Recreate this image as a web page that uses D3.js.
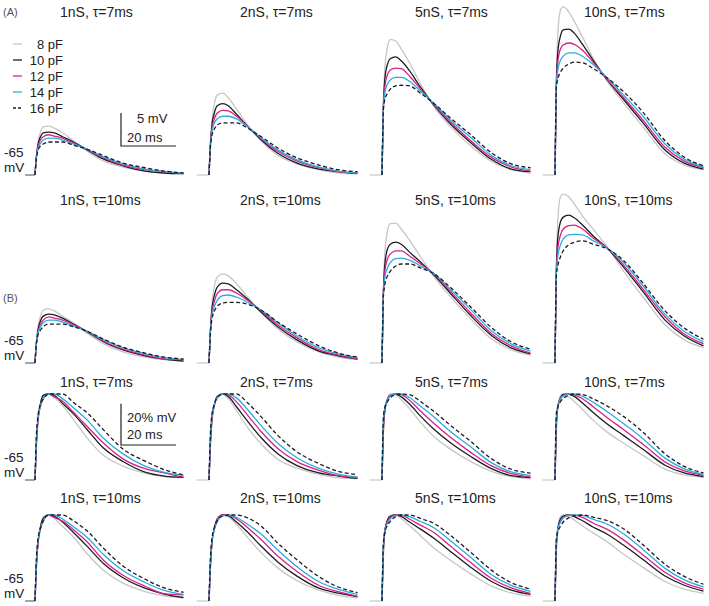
<!DOCTYPE html>
<html>
<head>
<meta charset="utf-8">
<script src="https://cdn.jsdelivr.net/npm/d3@7"></script>
<style>
  body { margin: 0; background: #fff; }
  text { font-family: "Liberation Sans", Arial, sans-serif; fill: #222; }
</style>
</head>
<body>
<svg id="fig" width="709" height="606"></svg>
<script>
// capacitance series (legend order)
const capacitances = ["8 pF", "10 pF", "12 pF", "14 pF", "16 pF"];
const conductances = ["1nS", "2nS", "5nS", "10nS"];
const taus = ["7ms", "10ms"];
// sample times after synaptic onset (ms)
const timesMs = [0, 0.5, 1, 2, 3, 5, 7, 10, 14, 19, 25, 32, 40, 47, 54];

// EPSP amplitude above -65 mV (mV), one row per capacitance, tau = 7 ms
const epsp1nS7 = [
  [0, 2.7, 4.7, 6.5, 7.3, 7.4, 7.1, 6.4, 5.2, 3.6, 2.1, 1.2, 0.6, 0.3, 0.2],
  [0, 2.7, 4.4, 5.8, 6.4, 6.5, 6.4, 5.8, 5.0, 3.8, 2.4, 1.4, 0.6, 0.3, 0.2],
  [0, 2.7, 4.1, 5.3, 5.8, 6.1, 5.9, 5.6, 4.8, 3.8, 2.6, 1.5, 0.8, 0.5, 0.2],
  [0, 2.6, 3.9, 4.8, 5.3, 5.6, 5.6, 5.3, 4.7, 3.9, 2.7, 1.7, 0.9, 0.5, 0.3],
  [0, 2.6, 3.6, 4.4, 4.7, 5.0, 5.0, 5.0, 4.5, 3.9, 2.9, 1.8, 1.1, 0.6, 0.3]
];
const epsp2nS7 = [
  [0, 4.5, 7.9, 10.9, 12.1, 12.4, 11.7, 10.0, 7.6, 5.2, 3.0, 1.7, 0.8, 0.3, 0.2],
  [0, 4.5, 7.3, 9.5, 10.5, 10.8, 10.5, 9.2, 7.4, 5.3, 3.3, 1.8, 0.9, 0.5, 0.2],
  [0, 4.4, 6.8, 8.6, 9.4, 9.8, 9.7, 8.9, 7.4, 5.5, 3.6, 2.1, 1.1, 0.5, 0.3],
  [0, 4.4, 6.4, 7.9, 8.5, 8.9, 8.9, 8.5, 7.3, 5.6, 3.8, 2.3, 1.2, 0.6, 0.3],
  [0, 4.2, 5.9, 7.0, 7.6, 7.9, 7.9, 7.9, 7.1, 5.8, 4.1, 2.6, 1.5, 0.8, 0.5]
];
const epsp5nS7 = [
  [0, 10.6, 15.9, 19.4, 20.5, 20.3, 19.1, 17.0, 13.8, 10.3, 7.3, 4.5, 2.0, 0.8, 0.3],
  [0, 10.3, 14.4, 16.8, 17.6, 17.9, 17.3, 15.8, 13.3, 10.5, 7.7, 5.0, 2.3, 0.9, 0.5],
  [0, 10.2, 13.3, 15.2, 15.9, 16.2, 16.1, 15.0, 13.0, 10.6, 8.0, 5.3, 2.6, 1.2, 0.6],
  [0, 10.0, 12.4, 13.8, 14.4, 14.8, 14.8, 14.2, 12.7, 10.8, 8.3, 5.8, 2.9, 1.4, 0.8],
  [0, 9.8, 11.4, 12.4, 13.0, 13.5, 13.6, 13.5, 12.4, 10.8, 8.6, 6.2, 3.3, 1.7, 1.1]
];
const epsp10nS7 = [
  [0, 14.4, 21.2, 25.0, 25.5, 24.7, 23.3, 20.9, 17.6, 14.2, 10.9, 7.3, 3.2, 1.5, 0.8],
  [0, 13.9, 18.5, 21.1, 22.0, 22.1, 21.5, 19.8, 17.3, 14.4, 11.4, 7.9, 3.8, 1.8, 0.9],
  [0, 13.6, 17.0, 19.1, 19.7, 20.0, 19.8, 18.9, 17.0, 14.5, 11.7, 8.3, 4.2, 2.1, 1.1],
  [0, 13.5, 15.8, 17.4, 18.0, 18.5, 18.5, 18.0, 16.7, 14.7, 12.1, 8.9, 4.7, 2.4, 1.2],
  [0, 13.3, 14.5, 15.6, 16.2, 16.8, 17.1, 17.0, 16.1, 14.7, 12.6, 9.5, 5.2, 2.7, 1.4]
];
// tau = 10 ms
const epsp1nS10 = [
  [0, 3.0, 5.2, 7.1, 8.0, 8.2, 7.9, 7.1, 6.1, 4.5, 2.9, 1.7, 0.9, 0.5, 0.3],
  [0, 3.0, 4.8, 6.4, 7.1, 7.4, 7.3, 6.8, 5.9, 4.7, 3.2, 2.0, 1.1, 0.6, 0.3],
  [0, 3.0, 4.5, 5.9, 6.5, 7.0, 6.8, 6.5, 5.8, 4.8, 3.3, 2.1, 1.2, 0.6, 0.5],
  [0, 2.9, 4.4, 5.5, 6.1, 6.5, 6.5, 6.2, 5.6, 4.8, 3.5, 2.3, 1.4, 0.8, 0.5],
  [0, 2.9, 4.1, 5.0, 5.5, 5.9, 5.9, 5.9, 5.5, 4.8, 3.6, 2.4, 1.5, 0.9, 0.6]
];
const epsp2nS10 = [
  [0, 4.8, 8.5, 11.7, 13.0, 13.5, 13.2, 12.0, 10.0, 7.6, 5.2, 3.2, 1.7, 0.9, 0.5],
  [0, 4.7, 7.9, 10.3, 11.5, 12.1, 12.0, 11.1, 9.7, 7.7, 5.5, 3.5, 1.8, 1.1, 0.6],
  [0, 4.7, 7.4, 9.4, 10.5, 11.1, 11.1, 10.6, 9.5, 7.9, 5.8, 3.8, 2.0, 1.2, 0.6],
  [0, 4.5, 7.0, 8.6, 9.5, 10.2, 10.3, 10.0, 9.2, 8.0, 6.1, 4.1, 2.3, 1.4, 0.8],
  [0, 4.5, 6.5, 7.9, 8.6, 9.1, 9.2, 9.2, 8.9, 8.0, 6.2, 4.4, 2.6, 1.5, 0.9]
];
const epsp5nS10 = [
  [0, 10.9, 16.4, 20.0, 21.1, 21.2, 20.3, 18.6, 16.1, 13.0, 10.0, 6.8, 3.6, 2.0, 1.2],
  [0, 10.6, 14.8, 17.3, 18.0, 18.3, 18.0, 16.8, 15.3, 13.3, 10.5, 7.3, 4.1, 2.3, 1.4],
  [0, 10.5, 13.8, 15.8, 16.5, 17.0, 17.0, 16.2, 15.0, 13.5, 10.8, 7.7, 4.4, 2.6, 1.5],
  [0, 10.3, 12.9, 14.4, 15.2, 15.8, 15.9, 15.6, 14.7, 13.5, 11.1, 8.2, 4.8, 2.9, 1.8],
  [0, 10.0, 11.8, 13.2, 13.9, 14.7, 15.0, 15.0, 14.4, 13.5, 11.4, 8.6, 5.3, 3.2, 2.1]
];
const epsp10nS10 = [
  [0, 14.5, 21.5, 25.2, 25.6, 25.2, 24.1, 22.3, 20.2, 17.6, 13.9, 10.0, 5.8, 3.5, 2.3],
  [0, 14.1, 18.8, 21.4, 22.1, 22.4, 22.0, 20.9, 19.2, 17.4, 14.5, 10.8, 6.5, 4.1, 2.6],
  [0, 13.8, 17.3, 19.4, 20.3, 20.8, 20.9, 20.3, 18.9, 17.4, 14.8, 11.2, 7.0, 4.4, 2.9],
  [0, 13.6, 16.1, 17.9, 18.8, 19.4, 19.5, 19.4, 18.5, 17.4, 15.2, 11.7, 7.4, 4.8, 3.2],
  [0, 13.3, 14.7, 16.1, 17.0, 17.9, 18.3, 18.5, 18.0, 17.3, 15.5, 12.1, 7.9, 5.3, 3.6]
];

const colors = ["#c6c6c6", "#1c1c1c", "#dc1f86", "#2aabe2", "#1c1c1c"];
const dashes = [null, null, null, null, "4,2.5"];

// layout
const riseX = [35, 209, 382, 555];
const titleX = [60, 240, 415, 584];
const baseY = [175, 363, 480, 601];
const titleY = [12, 200, 382, 498];
const pxPerMs = 2.75, preMs = 4.5;

const svg = d3.select("#fig");

// rows: tau 7 raw, tau 10 raw, tau 7 normalised, tau 10 normalised
const rowSets = [
  [epsp1nS7, epsp2nS7, epsp5nS7, epsp10nS7],
  [epsp1nS10, epsp2nS10, epsp5nS10, epsp10nS10]
];

function yScaleFor(row)
{
  const b = baseY[row];
  if (row < 2) return d3.scaleLinear().domain([0, 5]).range([b, b - 33]);
  return d3.scaleLinear().domain([0, 100]).range([b, b - 86]);
}

for (let row = 0; row < 4; row++)
{
  const norm = row >= 2;
  const sets = rowSets[row % 2];
  const y = yScaleFor(row);
  for (let col = 0; col < 4; col++)
  {
    const x = d3.scaleLinear().domain([0, 20]).range([riseX[col], riseX[col] + 20 * pxPerMs]);
    const g = svg.append("g");

    g.append("text")
      .attr("x", titleX[col]).attr("y", titleY[row] + 5)
      .attr("font-size", 14)
      .text(conductances[col] + ", \u03c4=" + taus[row % 2]);

    // flat baseline before onset
    g.append("line")
      .attr("x1", x(col === 0 ? -3.6 : -preMs)).attr("x2", x(0))
      .attr("y1", y(0)).attr("y2", y(0))
      .attr("stroke", col === 0 ? "#666" : colors[0]).attr("stroke-width", 1.2);

    const line = d3.line()
      .x((d, i) => x(timesMs[i]))
      .y(d => y(d))
      .curve(d3.curveMonotoneX);

    sets[col].forEach((vals, k) =>
    {
      let v = vals;
      if (norm)
      {
        const m = d3.max(vals);
        v = vals.map(a => a / m * 100);
      }
      g.append("path")
        .attr("d", line(v))
        .attr("fill", "none")
        .attr("stroke", colors[k])
        .attr("stroke-width", 1.3)
        .attr("stroke-dasharray", dashes[k]);
    });
  }

  // -65 mV label
  svg.append("text").attr("x", 4).attr("y", baseY[row] - 18).attr("font-size", 13.5).text("-65");
  svg.append("text").attr("x", 4).attr("y", baseY[row] - 3).attr("font-size", 13.5).text("mV");
}

// panel letters
svg.append("text").attr("x", 3).attr("y", 16).attr("font-size", 11).style("fill", "#555").text("(A)");
svg.append("text").attr("x", 3).attr("y", 302).attr("font-size", 11).style("fill", "#555").text("(B)");

// legend
capacitances.forEach((c, k) =>
{
  const ly = 44 + 16 * k;
  svg.append("line")
    .attr("x1", 13).attr("x2", 22).attr("y1", ly).attr("y2", ly)
    .attr("stroke", colors[k]).attr("stroke-width", 1.3)
    .attr("stroke-dasharray", k === 4 ? "3,2" : null);
  svg.append("text")
    .attr("x", 63).attr("y", ly + 5)
    .attr("text-anchor", "end").attr("font-size", 13)
    .text(c);
});

// scale bars
function scaleBar(row, value, cornerY)
{
  const y = yScaleFor(row);
  const h = y(0) - y(value);
  const w = 20 * pxPerMs;
  const cx = 121;
  svg.append("path")
    .attr("d", "M" + cx + "," + (cornerY - h) + "V" + cornerY + "H" + (cx + w))
    .attr("fill", "none").attr("stroke", "#222").attr("stroke-width", 1.2);
}
scaleBar(0, 5, 146);
svg.append("text").attr("x", 137).attr("y", 123).attr("font-size", 13).text("5 mV");
svg.append("text").attr("x", 127).attr("y", 142).attr("font-size", 13).text("20 ms");

scaleBar(2, 48, 445);
svg.append("text").attr("x", 127).attr("y", 422).attr("font-size", 13).text("20% mV");
svg.append("text").attr("x", 127).attr("y", 439).attr("font-size", 13).text("20 ms");
</script>
</body>
</html>
